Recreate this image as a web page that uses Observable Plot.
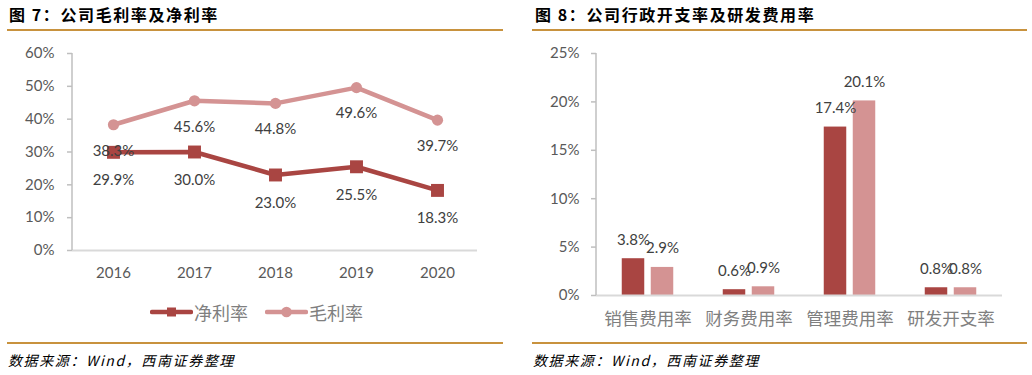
<!DOCTYPE html>
<html>
<head>
<meta charset="utf-8">
<script src="https://cdn.jsdelivr.net/npm/d3@7"></script>
<script src="https://cdn.jsdelivr.net/npm/@observablehq/plot@0.6"></script>
<style>
  html, body { margin: 0; padding: 0; background: #fff; }
  body { width: 1032px; height: 375px; position: relative; overflow: hidden; font-family: "Noto Sans CJK SC", "Noto Sans", sans-serif; }
  .panel { position: absolute; top: 0; width: 516px; height: 375px; }
  .title { position: absolute; top: 4px; font-weight: 700; font-size: 16px; letter-spacing: 1.6px; line-height: 20px; color: #000; white-space: nowrap; }
  .rule { position: absolute; height: 2px; background: #C8923E; }
  .chart { position: absolute; left: 0; top: 30px; }
  .source { position: absolute; top: 350px; font-style: italic; font-size: 14px; letter-spacing: 1.6px; line-height: 20px; color: #000; white-space: nowrap; }
  .legend { position: absolute; top: 302px; left: 150px; height: 20px; display: flex; align-items: center; font-size: 18px; color: #7F7F7F; line-height: 20px; }
  .legend .item { display: flex; align-items: center; margin-right: 17px; }
  .legend svg { display: block; margin-right: 1px; }
</style>
</head>
<body>
<div class="panel" id="left">
  <div class="title" style="left:9px">图 7：公司毛利率及净利率</div>
  <div class="rule" style="left:7px; top:29px; width:496px"></div>
  <div class="chart" id="chart1"></div>
  <div class="legend" id="legend1"></div>
  <div class="rule" style="left:7px; top:342px; width:496px"></div>
  <div class="source" style="left:8px">数据来源：Wind，西南证券整理</div>
</div>
<div class="panel" id="right" style="left:516px">
  <div class="title" style="left:19px">图 8：公司行政开支率及研发费用率</div>
  <div class="rule" style="left:16px; top:29px; width:495px"></div>
  <div class="chart" id="chart2"></div>
  <div class="rule" style="left:16px; top:342px; width:495px"></div>
  <div class="source" style="left:17px">数据来源：Wind，西南证券整理</div>
</div>
<script>
// ---- Data ----
const years = ["2016", "2017", "2018", "2019", "2020"];
const netMargin = [29.9, 30.0, 23.0, 25.5, 18.3];     // 净利率 (%)
const grossMargin = [38.3, 45.6, 44.8, 49.6, 39.7];   // 毛利率 (%)
const lineSeriesNames = ["净利率", "毛利率"];
const lineYTicks = [0, 10, 20, 30, 40, 50, 60];

const costCategories = ["销售费用率", "财务费用率", "管理费用率", "研发开支率"];
const costSeriesA = [3.8, 0.6, 17.4, 0.8];
const costSeriesB = [2.9, 0.9, 20.1, 0.8];
const barYTicks = [0, 5, 10, 15, 20, 25];

// ---- Styles ----
const NET = "#A94542";
const GROSS = "#D49393";
const TICK = "#595959";
const LABEL = "#404040";
const fmt = v => v.toFixed(1) + "%";
const pct = d => d + "%";

// ---- Chart 1: line chart ----
const netData = years.map((y, i) => ({year: y, v: netMargin[i]}));
const grossData = years.map((y, i) => ({year: y, v: grossMargin[i]}));

const c1 = Plot.plot({
  width: 516, height: 260,
  marginLeft: 72, marginRight: 39, marginTop: 23, marginBottom: 40,
  style: {fontFamily: "Lato, 'Noto Sans', sans-serif", fontSize: "15px", background: "transparent", overflow: "visible"},
  x: {type: "point", domain: years, padding: 0.5},
  y: {domain: [0, 60]},
  marks: [
    Plot.ruleY([0], {stroke: "#D9D9D9", strokeWidth: 2}),
    Plot.axisY({ticks: lineYTicks, tickFormat: pct, tickSize: 5, tickPadding: 13, stroke: "#BFBFBF", strokeWidth: 1.5, fill: TICK, label: null, fontSize: 15}),
    Plot.axisX({tickSize: 0, tickPadding: 17, fill: TICK, label: null, fontSize: 15}),
    Plot.line(grossData, {x: "year", y: "v", stroke: GROSS, strokeWidth: 4.5}),
    Plot.dot(grossData, {x: "year", y: "v", fill: GROSS, r: 5.6, symbol: "circle"}),
    Plot.line(netData, {x: "year", y: "v", stroke: NET, strokeWidth: 4.5}),
    Plot.dot(netData, {x: "year", y: "v", fill: NET, r: 7.3, symbol: "square"}),
    Plot.text(grossData, {x: "year", y: "v", text: d => fmt(d.v), dy: 26, fill: LABEL, fontSize: 15}),
    Plot.text(netData, {x: "year", y: "v", text: d => fmt(d.v), dy: 28, fill: LABEL, fontSize: 15})
  ]
});
{
  const sx = c1.scale("x"), sy = c1.scale("y");
  d3.select(c1).append("line")
    .attr("x1", sx.range[0]).attr("x2", sx.range[0])
    .attr("y1", sy.range[0]).attr("y2", sy.range[1])
    .attr("stroke", "#BFBFBF").attr("stroke-width", 1.5);
}
document.getElementById("chart1").appendChild(c1);

// legend
const legend1 = document.getElementById("legend1");
lineSeriesNames.forEach((name, i) => {
  const color = i === 0 ? NET : GROSS;
  const item = document.createElement("div");
  item.className = "item";
  const marker = i === 0
    ? `<rect x="17" y="5.5" width="9" height="9" fill="${color}"/>`
    : `<circle cx="21.5" cy="10" r="5.3" fill="${color}"/>`;
  item.innerHTML = `<svg width="43" height="20"><line x1="2" x2="41" y1="10" y2="10" stroke="${color}" stroke-width="4.5" stroke-linecap="round"/>${marker}</svg><span>${name}</span>`;
  legend1.appendChild(item);
});

// ---- Chart 2: grouped bar chart ----
const barA = costCategories.map((c, i) => ({cat: c, v: costSeriesA[i]}));
const barB = costCategories.map((c, i) => ({cat: c, v: costSeriesB[i]}));

const c2 = Plot.plot({
  width: 516, height: 300,
  marginLeft: 80, marginRight: 30, marginTop: 23, marginBottom: 35,
  style: {fontFamily: "Lato, 'Noto Sans', sans-serif", fontSize: "15px", background: "transparent", overflow: "visible"},
  x: {type: "band", domain: costCategories, padding: 0},
  y: {domain: [0, 25]},
  marks: [
    Plot.barY(barA, {x: "cat", y: "v", fill: NET, insetLeft: 24.75, insetRight: 53.75}),
    Plot.barY(barB, {x: "cat", y: "v", fill: GROSS, insetLeft: 53.75, insetRight: 24.75}),
    Plot.ruleY([0], {stroke: "#D9D9D9", strokeWidth: 2}),
    Plot.axisY({ticks: barYTicks, tickFormat: pct, tickSize: 5, tickPadding: 12, stroke: "#BFBFBF", strokeWidth: 1.5, fill: TICK, label: null, fontSize: 15}),
    Plot.axisX({tickSize: 0, tickPadding: 17, fill: "#7F7F7F", label: null, fontSize: 17.5, fontFamily: "'Noto Sans CJK SC', sans-serif"}),
    Plot.text(barA, {x: "cat", y: "v", text: d => fmt(d.v), dx: -14.5, dy: -19, fill: LABEL, fontSize: 15}),
    Plot.text(barB, {x: "cat", y: "v", text: d => fmt(d.v), dx: 14.5, dy: -19, fill: LABEL, fontSize: 15})
  ]
});
{
  const sx = c2.scale("x"), sy = c2.scale("y");
  d3.select(c2).append("line")
    .attr("x1", sx.range[0]).attr("x2", sx.range[0])
    .attr("y1", sy.range[0]).attr("y2", sy.range[1])
    .attr("stroke", "#BFBFBF").attr("stroke-width", 1.5);
}
document.getElementById("chart2").appendChild(c2);
</script>
</body>
</html>
